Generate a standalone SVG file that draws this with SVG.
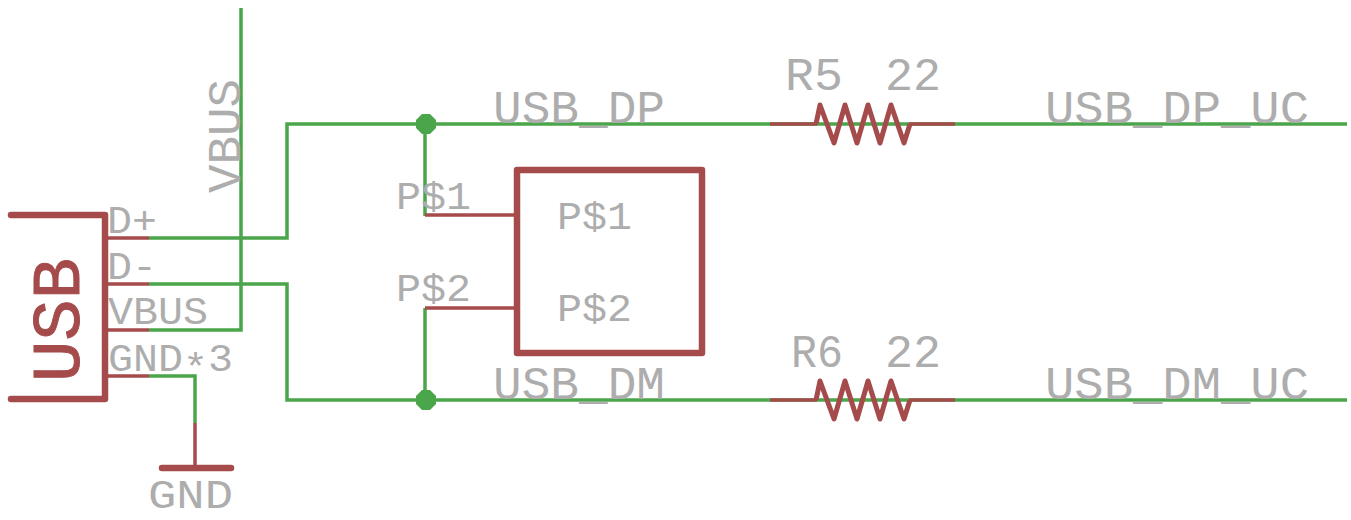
<svg xmlns="http://www.w3.org/2000/svg" width="1351" height="520" viewBox="0 0 1351 520">
<style>
.w{fill:none;stroke:#4ba54b;stroke-width:3.5;stroke-linejoin:miter}
.p{fill:none;stroke:#a54b4b;stroke-width:3.5}
.z{fill:none;stroke:#a54b4b;stroke-width:5;stroke-linejoin:round}
.b{fill:none;stroke:#a54b4b;stroke-width:6.5;stroke-linejoin:round;stroke-linecap:round}
.j{fill:#4ba54b}
text{font-family:"Liberation Mono","DejaVu Sans Mono",monospace;fill:#adadad}
.l{font-size:46px}
.s{font-size:39px}
</style>
<rect width="1351" height="520" fill="#fff"/>
<g id="connectors">
<path class="w" d="M149 238H287V124H1347"/>
<path class="w" d="M149 284H287V400H1347"/>
<path class="w" d="M149 330H241V8"/>
<path class="w" d="M149 376H195V423"/>
<path class="w" d="M425 124V216"/>
<path class="w" d="M425 308V400"/>
</g>
<g id="usb">
<path class="b" d="M11 215H105V399H11"/>
<path class="p" d="M105 238H149M105 284H149M105 330H149M105 376H149"/>
<text transform="translate(79 382) rotate(-90)" textLength="124" lengthAdjust="spacingAndGlyphs" style="font-size:68px;fill:#a54b4b;stroke:#a54b4b;stroke-width:1">USB</text>
<text class="s" x="107" y="233" textLength="50" lengthAdjust="spacingAndGlyphs">D+</text>
<text class="s" x="107" y="279" textLength="50" lengthAdjust="spacingAndGlyphs">D-</text>
<text class="s" x="108" y="324" textLength="100" lengthAdjust="spacingAndGlyphs">VBUS</text>
<text class="s" x="108" y="371" textLength="125" lengthAdjust="spacingAndGlyphs">GND<tspan dy="9">*</tspan><tspan dy="-9">3</tspan></text>
</g>
<g id="vbus-label">
<text class="l" transform="translate(240 193) rotate(-90)" textLength="114" lengthAdjust="spacingAndGlyphs">VBUS</text>
</g>
<g id="gnd">
<path class="p" d="M195 423V468"/>
<path class="b" d="M162 468H231"/>
<text x="148" y="507.5" textLength="85" lengthAdjust="spacingAndGlyphs" style="font-size:41px">GND</text>
</g>
<g id="junction-top"><polygon class="j" points="422,114 430,114 436,120 436,128 430,134 422,134 416,128 416,120"/></g>
<g id="junction-bottom"><polygon class="j" points="422,390 430,390 436,396 436,404 430,410 422,410 416,404 416,396"/></g>
<g id="u1">
<rect x="517" y="170" width="185" height="183" fill="none" stroke="#a54b4b" stroke-width="6.5" stroke-linejoin="round"/>
<path class="p" d="M425 215H517M425 308H517"/>
<text class="s" x="396" y="209" textLength="75" lengthAdjust="spacingAndGlyphs">P$1</text>
<text class="s" x="396" y="301" textLength="75" lengthAdjust="spacingAndGlyphs">P$2</text>
<text class="s" x="557" y="229" textLength="75" lengthAdjust="spacingAndGlyphs">P$1</text>
<text class="s" x="557" y="321" textLength="75" lengthAdjust="spacingAndGlyphs">P$2</text>
</g>
<g id="r5">
<path class="p" d="M770 124H817"/><path class="p" d="M909 124H955"/>
<path class="z" d="M816 124L820 105L834 143L845 105L857 143L868 105L880 143L891 105L904 143L910 124"/>
<text class="l" x="785" y="90" textLength="58" lengthAdjust="spacingAndGlyphs">R5</text>
<text class="l" x="885" y="90" textLength="56" lengthAdjust="spacingAndGlyphs">22</text>
</g>
<g id="r6">
<path class="p" d="M770 400H817"/><path class="p" d="M909 400H955"/>
<path class="z" d="M816 400L820 381L834 419L845 381L857 419L868 381L880 419L891 381L904 419L910 400"/>
<text class="l" x="791" y="367" textLength="52" lengthAdjust="spacingAndGlyphs">R6</text>
<text class="l" x="885" y="367" textLength="56" lengthAdjust="spacingAndGlyphs">22</text>
</g>
<g id="net-labels">
<text class="l" x="493" y="123" textLength="172" lengthAdjust="spacingAndGlyphs">USB_DP</text>
<text class="l" x="493" y="399" textLength="172" lengthAdjust="spacingAndGlyphs">USB_DM</text>
<text class="l" x="1045" y="123" textLength="264" lengthAdjust="spacingAndGlyphs">USB_DP_UC</text>
<text class="l" x="1045" y="399" textLength="264" lengthAdjust="spacingAndGlyphs">USB_DM_UC</text>
</g>
</svg>
